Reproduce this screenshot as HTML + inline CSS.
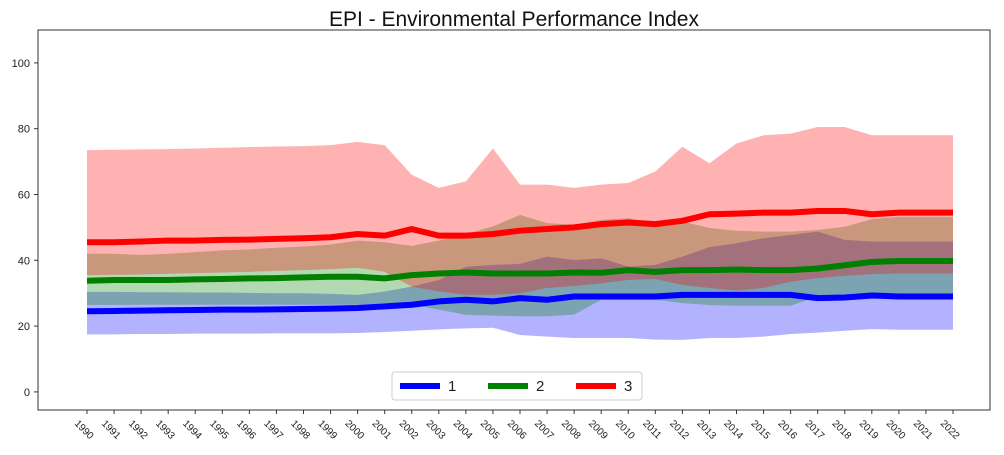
<!DOCTYPE html>
<html><head><meta charset="utf-8"><style>
body{margin:0;background:#fff;font-family:"Liberation Sans",sans-serif}
svg{display:block}
</style></head><body>
<svg id="c" width="1004" height="455" xmlns="http://www.w3.org/2000/svg">
<text x="514" y="26" text-anchor="middle" font-size="21" fill="#111">EPI - Environmental Performance Index</text>
<g id="bands"></g><g id="lines"></g><g id="axes"></g><g id="legend"></g>
</svg>
<script>
const years=[];for(let y=1990;y<=2022;y++)years.push(y);
const blueMean=[24.5,24.6,24.7,24.8,24.9,25,25,25.1,25.2,25.3,25.5,26,26.5,27.5,28,27.5,28.5,28,29,29,29,29,29.5,29.5,29.5,29.5,29.5,28.5,28.7,29.3,29,29,29];
const blueUpper=[30.4,30.4,30.3,30.3,30.2,30.2,30.1,30,30,29.8,29.5,30.5,32,34,38,38.6,38.9,41.1,40.1,40.6,38.1,38.6,41.1,44,45.2,46.7,47.7,48.7,46.2,45.7,45.7,45.7,45.7];
const blueLower=[17.5,17.5,17.6,17.6,17.7,17.7,17.7,17.8,17.8,17.8,17.9,18.2,18.6,19,19.3,19.5,17.3,16.8,16.4,16.4,16.4,15.9,15.8,16.4,16.4,16.8,17.6,18,18.6,19.1,18.9,18.9,18.9];
const greenMean=[33.8,34,34,34,34.2,34.3,34.5,34.6,34.8,35,35,34.5,35.5,36,36.3,36,36,36,36.3,36.2,37,36.5,37,37,37.2,37,37,37.5,38.5,39.5,39.8,39.8,39.8];
const greenUpper=[42,42,41.6,42,42.5,43,43.3,43.8,44.2,44.8,46,45.5,44.4,46,48,50.3,53.8,51.3,50.8,52.3,52.8,51,51.8,49.8,49,48.7,48.7,49.2,50.2,52.5,53.2,53.2,53.2];
const greenLower=[26.4,26.4,26.5,26.5,26.5,26.5,26.5,26.5,26.5,26.5,26.5,27,26.5,25,23.4,23.2,23,23,23.5,28,28,28,27,26.4,26.2,26.2,26.2,29,29,29,29,29,29];
const redMean=[45.5,45.5,45.7,46,46,46.2,46.3,46.5,46.7,47,48,47.5,49.5,47.5,47.5,48,49,49.5,50,51,51.5,51,52,54,54.2,54.5,54.5,55,55,54,54.5,54.5,54.5];
const redUpper=[73.5,73.6,73.7,73.8,74,74.2,74.4,74.6,74.7,75,76,75,66,62,64,74,63,63,62,63,63.5,67,74.5,69.5,75.5,78,78.5,80.5,80.5,78,78,78,78];
const redLower=[35.5,35.6,35.7,35.9,36.1,36.3,36.5,36.8,37,37.3,37.7,36.5,32,30.5,29.5,29.5,30,31.6,32.2,33,34,34.3,32.5,31.6,30.8,31.6,33.5,34.6,35.3,35.8,36,36,36];
const yTicks=[0,20,40,60,80,100];
const legendLabels=["1","2","3"];
const L=38,R=990,T=30,B=410,yMin=-5.5,yMax=110,x0=87,x1=953;
const X=i=>x0+(x1-x0)*(years[i]-years[0])/(years[years.length-1]-years[0]);
const Y=v=>B-(v-yMin)/(yMax-yMin)*(B-T);
const NS="http://www.w3.org/2000/svg";
function mk(t,a,p){const e=document.createElementNS(NS,t);for(const k in a)e.setAttribute(k,a[k]);p.appendChild(e);return e;}
const bands=document.getElementById('bands'),lines=document.getElementById('lines'),axes=document.getElementById('axes'),legend=document.getElementById('legend');
const series=[[blueUpper,blueLower,blueMean,'#0000ff','blue'],[greenUpper,greenLower,greenMean,'#008000','green'],[redUpper,redLower,redMean,'#ff0000','red']];
series.forEach(s=>{
 let d='';s[0].forEach((v,i)=>d+=(i?'L':'M')+X(i)+','+Y(v));
 for(let i=s[1].length-1;i>=0;i--)d+='L'+X(i)+','+Y(s[1][i]);
 const p=mk('path',{d:d+'Z',fill:s[3],'fill-opacity':0.3},bands);
 
 
});
series.forEach(s=>{
 const pts=s[2].map((v,i)=>X(i)+','+Y(v)).join(' ');
 const p=mk('polyline',{points:pts,fill:'none',stroke:s[3],'stroke-width':6,'stroke-linejoin':'round'},lines);
 
 
});
const fr=mk('rect',{x:L,y:T,width:R-L,height:B-T,fill:'none',stroke:'#333','stroke-width':1},axes);


yTicks.forEach(v=>{
 mk('line',{x1:L-4,x2:L,y1:Y(v),y2:Y(v),stroke:'#333'},axes);
 const t=mk('text',{x:L-8,y:Y(v)+4,'text-anchor':'end','font-size':11,fill:'#222'},axes);t.textContent=v;
 
 
});
years.forEach((yr,i)=>{
 mk('line',{x1:X(i),x2:X(i),y1:B,y2:B+4,stroke:'#333'},axes);
 const t=mk('text',{x:X(i)-13,y:B+14,'font-size':10,fill:'#222',transform:`rotate(45 ${X(i)-13} ${B+14})`},axes);t.textContent=yr;
 
 
});
const lb=mk('rect',{x:392,y:372,width:250,height:28,rx:3,fill:'#fff','fill-opacity':0.85,stroke:'#ccc'},legend);


series.forEach((s,k)=>{
 const lx=400+k*88;
 const ln=mk('line',{x1:lx,x2:lx+40,y1:386,y2:386,stroke:s[3],'stroke-width':6},legend);
 
 
 const t=mk('text',{x:lx+48,y:391,'font-size':15,fill:'#222'},legend);t.textContent=legendLabels[k];
 
 
});
</script>
</body></html>
